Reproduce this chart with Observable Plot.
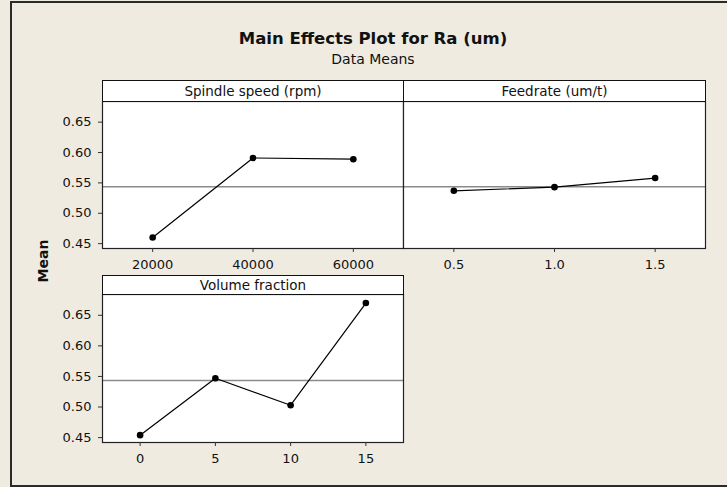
<!DOCTYPE html>
<html>
<head>
<meta charset="utf-8">
<script src="https://cdn.jsdelivr.net/npm/d3@7"></script>
<script src="https://cdn.jsdelivr.net/npm/@observablehq/plot@0.6"></script>
<style>
  html, body { margin: 0; padding: 0; background: #efebe1; }
  #page { position: relative; width: 727px; height: 487px; overflow: hidden; background: #efebe1; font-family: "DejaVu Sans", sans-serif; color: #111; }
  .abs { position: absolute; }
  .hdr { position: absolute; box-sizing: border-box; background: #fff; border: 1px solid #111; text-align: center; font-family: "DejaVu Sans", sans-serif; font-size: 13.5px; color: #111; white-space: nowrap; }
</style>
</head>
<body>
<div id="page"></div>
<script>
// ---- data ----
const spindleLevels = [20000, 40000, 60000];
const spindleMeans = [0.460, 0.591, 0.589];
const feedLevels = [0.5, 1.0, 1.5];
const feedMeans = [0.537, 0.543, 0.558];
const volumeLevels = [0, 5, 10, 15];
const volumeMeans = [0.454, 0.547, 0.503, 0.670];
const grandMean = 0.5435;
const yTicks = [0.45, 0.50, 0.55, 0.60, 0.65];
const spindleTicks = [20000, 40000, 60000];
const feedTicks = [0.5, 1.0, 1.5];
const volumeTicks = [0, 5, 10, 15];
const panelTitles = ["Spindle speed (rpm)", "Feedrate (um/t)", "Volume fraction"];
const chartTitle = "Main Effects Plot for Ra (um)";
const chartSubtitle = "Data Means";
const yLabel = "Mean";

const page = document.getElementById("page");

function addDiv(cls, styles, text) {
  const d = document.createElement("div");
  d.className = cls;
  Object.assign(d.style, styles);
  if (text != null) d.textContent = text;
  page.appendChild(d);
  return d;
}

// outer frame
addDiv("abs", {left: "10px", top: "1px", width: "740px", height: "486px", boxSizing: "border-box", border: "2px solid #2a2a2a"});

// titles
addDiv("abs", {left: "173px", top: "29px", width: "400px", textAlign: "center", fontWeight: "bold", fontSize: "16.5px", lineHeight: "normal"}, chartTitle);
addDiv("abs", {left: "173px", top: "51px", width: "400px", textAlign: "center", fontSize: "14px", lineHeight: "normal"}, chartSubtitle);

// y label
addDiv("abs", {left: "43px", top: "261px", transform: "translate(-50%,-50%) rotate(-90deg)", fontWeight: "bold", fontSize: "14px", whiteSpace: "nowrap"}, yLabel);

function panel({levels, means, xDomain, xTicks, xFormat, showY, left, top, w, h, title, hdrTop, hdrH}) {
  const data = levels.map((x, i) => ({x, y: means[i]}));
  const mL = showY ? 60 : 2, mR = 2, mT = 1, mB = 30;
  const chart = Plot.plot({
    width: w + mL + mR,
    height: h + mT + mB,
    marginLeft: mL, marginRight: mR, marginTop: mT, marginBottom: mB,
    style: {background: "transparent", fontFamily: "DejaVu Sans, sans-serif", fontSize: "13px", color: "#111", overflow: "visible"},
    x: {domain: xDomain, label: null, axis: null},
    y: {domain: [0.442, 0.684], label: null, axis: null},
    marks: [
      Plot.frame({fill: "white", stroke: null}),
      Plot.ruleY([grandMean], {stroke: "#8a8a8a", strokeWidth: 1.5}),
      Plot.line(data, {x: "x", y: "y", stroke: "#000", strokeWidth: 1.2}),
      Plot.dot(data, {x: "x", y: "y", r: 3.3, fill: "#000", stroke: null}),
      Plot.frame({stroke: "#222", strokeWidth: 1.2}),
      Plot.axisX({ticks: xTicks, tickFormat: xFormat, tickSize: 4, tickPadding: 7, label: null, stroke: "#333"}),
      ...(showY ? [Plot.axisY({ticks: yTicks, tickFormat: d3.format(".2f"), tickSize: 4, tickPadding: 7, label: null, stroke: "#333"})] : [])
    ]
  });
  chart.style.position = "absolute";
  chart.style.left = (left - mL) + "px";
  chart.style.top = (top - mT) + "px";
  page.appendChild(chart);
  addDiv("hdr", {left: left + "px", top: hdrTop + "px", width: (w + 1) + "px", height: (hdrH + 1) + "px", lineHeight: (hdrH - 1) + "px"}, title);
}

panel({levels: spindleLevels, means: spindleMeans, xDomain: [10000, 70000], xTicks: spindleTicks, xFormat: d3.format("d"), showY: true,
  left: 102, top: 101, w: 301, h: 147, title: panelTitles[0], hdrTop: 80, hdrH: 21});
panel({levels: feedLevels, means: feedMeans, xDomain: [0.25, 1.75], xTicks: feedTicks, xFormat: d3.format(".1f"), showY: false,
  left: 403, top: 101, w: 302, h: 147, title: panelTitles[1], hdrTop: 80, hdrH: 21});
panel({levels: volumeLevels, means: volumeMeans, xDomain: [-2.5, 17.5], xTicks: volumeTicks, xFormat: d3.format("d"), showY: true,
  left: 102, top: 294, w: 301, h: 148, title: panelTitles[2], hdrTop: 275, hdrH: 19});
</script>
</body>
</html>
